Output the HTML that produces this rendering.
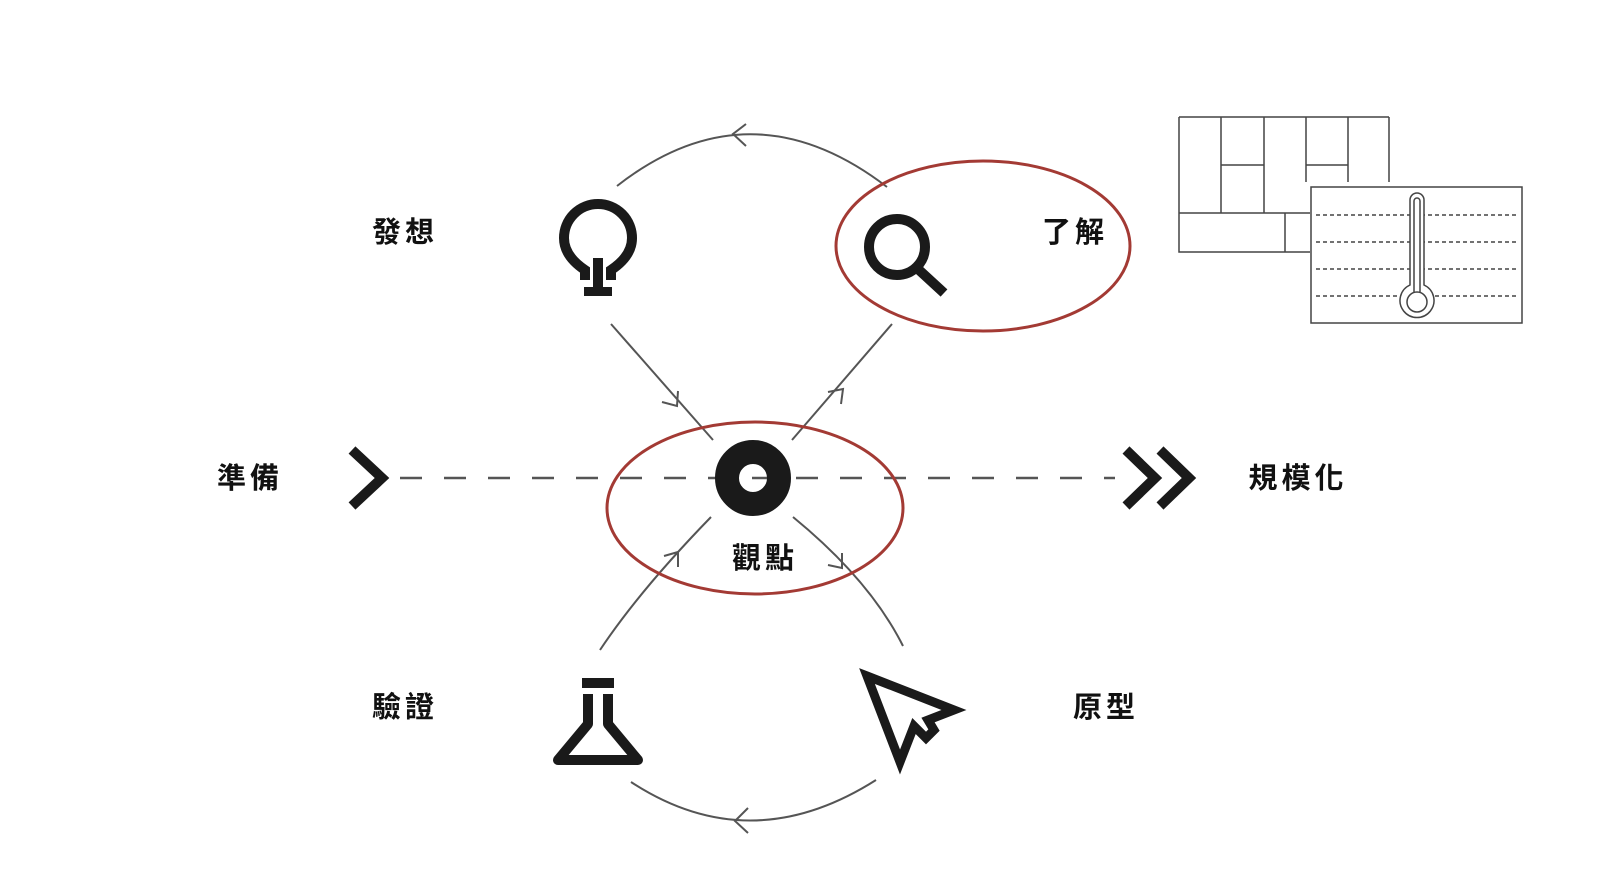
<!DOCTYPE html>
<html><head><meta charset="utf-8"><style>
html,body{margin:0;padding:0;background:#fff}
svg{display:block}
text{font-family:"Liberation Sans","Noto Sans CJK TC",sans-serif;font-weight:bold;font-size:29px;fill:#111;text-anchor:middle;letter-spacing:4px}
</style></head><body>
<svg width="1614" height="882" viewBox="0 0 1614 882" xmlns="http://www.w3.org/2000/svg">
<g fill="none" stroke="#555" stroke-width="2">
<path d="M617 186 Q750 82 887 187"/>
<path d="M746 124 L733 134 L746 146"/>
<path d="M631 782 Q750 860 876 780"/>
<path d="M748 808 L735 821 L748 833"/>
<path d="M611 324 L713 440"/>
<path d="M662 402 L677 406 L678 391"/>
<path d="M792 440 L892 324"/>
<path d="M828 392 L843 389 L841 404"/>
<path d="M711 517 Q640 590 600 650"/>
<path d="M664 556 L678 552 L678 567"/>
<path d="M793 517 Q870 580 903 646"/>
<path d="M828 565 L842 568 L842 553"/>
</g>
<line x1="400" y1="478" x2="1115" y2="478" stroke="#555" stroke-width="2.5" stroke-dasharray="22 22"/>
<ellipse cx="983" cy="246" rx="147" ry="85" fill="none" stroke="#a33a34" stroke-width="3"/>
<ellipse cx="755" cy="508" rx="148" ry="86" fill="none" stroke="#a33a34" stroke-width="3"/>
<g fill="none" stroke="#1a1a1a" stroke-width="10">
<path d="M352 450 L382 478 L352 506"/>
<path d="M1126 450 L1155 478 L1126 506"/>
<path d="M1160 450 L1189 478 L1160 506"/>
</g>
<g fill="none" stroke="#1a1a1a" stroke-width="10">
<path d="M585 280 L585 270 Q564 256 564 238 A34 34 0 1 1 632 238 Q632 256 611 270 L611 280"/>
<line x1="598" y1="258" x2="598" y2="290"/>
</g>
<rect x="584" y="287" width="28" height="9" fill="#1a1a1a"/>
<circle cx="897" cy="247" r="28" fill="none" stroke="#1a1a1a" stroke-width="10"/>
<line x1="919" y1="270" x2="944" y2="293" stroke="#1a1a1a" stroke-width="10"/>
<circle cx="753" cy="478" r="26" fill="none" stroke="#1a1a1a" stroke-width="24"/>
<rect x="582" y="678" width="32" height="10" fill="#1a1a1a"/>
<path d="M588 694 L588 724 L558 760 L638 760 L608 724 L608 694" fill="none" stroke="#1a1a1a" stroke-width="10" stroke-linejoin="round"/>
<path d="M867 676 L954 710 L928 720 L934 730 L926 738 L914 726 L900 762 Z" fill="none" stroke="#1a1a1a" stroke-width="9" stroke-linejoin="miter"/>
<text x="405" y="242">發想</text>
<text x="1075" y="242">了解</text>
<text x="250" y="488">準備</text>
<text x="1298" y="488">規模化</text>
<text x="405" y="717">驗證</text>
<text x="1106" y="717">原型</text>
<text x="765" y="568">觀點</text>
<g fill="none" stroke="#444" stroke-width="1.5">
<path d="M1179 117 H1389 M1179 117 V252 H1310 M1221 117 V213 M1264 117 V213 M1306 117 V182 M1348 117 V182 M1389 117 V182 M1221 165 H1264 M1306 165 H1348 M1179 213 H1310 M1285 213 V252"/>
<rect x="1311" y="187" width="211" height="136" fill="#fff"/>
<g stroke-dasharray="4 3"><path d="M1316 215 H1518 M1316 242 H1518 M1316 269 H1518 M1316 296 H1518"/></g>
<path d="M1410 285 V200 A7 7 0 0 1 1424 200 V285 A17 17 0 1 1 1410 285 Z" fill="#fff"/>
<path d="M1414 293 V201 A3 3 0 0 1 1420 201 V293"/>
<circle cx="1417" cy="302" r="10"/>
</g>
</svg>
</body></html>
